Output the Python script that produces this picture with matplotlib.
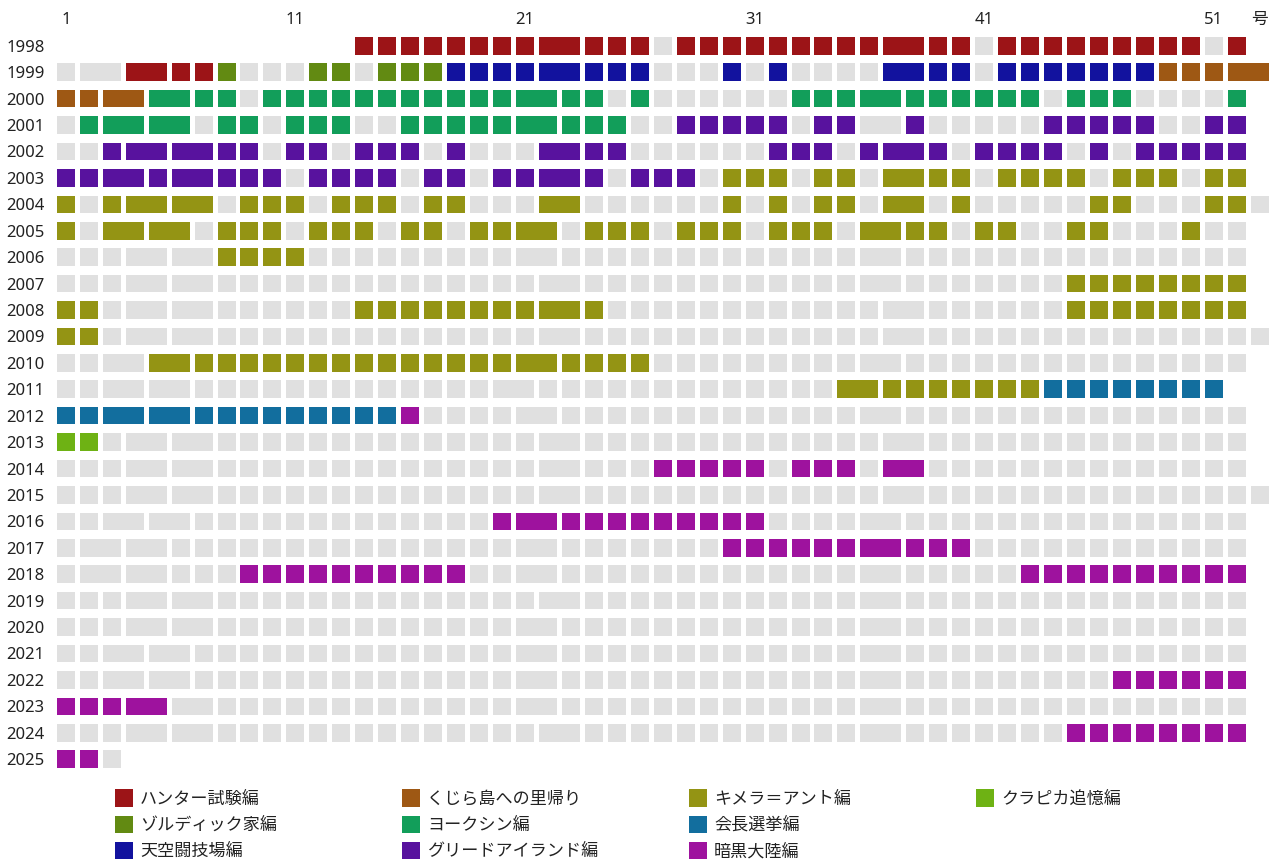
import matplotlib
matplotlib.use("Agg")
import matplotlib.pyplot as plt
from matplotlib.patches import Rectangle

FONT = ["Noto Sans", "Noto Sans CJK JP", "DejaVu Sans"]
plt.rcParams["font.family"] = FONT

years = list(range(1998, 2026))

# One character per issue column (grouped by 10 for readability).
# '-' = no issue drawn, '0' = not published, letters = story arc
issue_arcs = [
    "---------- ---HHHHHHH HHHHHH0HHH HHHHHHHHHH 0HHHHHHHHH 0H",    # 1998
    "000HHHHZ00 0ZZ0ZZZTTT TTTTTT000T 0T0000TTTT 0TTTTTTTKK KKK",   # 1999
    "KKKKYYYY0Y YYYYYYYYYY YYYY0Y0000 00YYYYYYYY YYY0YYY000 0Y",    # 2000
    "0YYYYY0YY0 YYY00YYYYY YYYYY00GGG GG0GG00G00 000GGGGG00 GG",    # 2001
    "00GGGGGGG0 GG0GGG0G00 0GGGG00000 0GGG0GGGG0 GGGG0G0GGG GG",    # 2002
    "GGGGGGGGGG 0GGGG0GG0G GGGG0GGG0C CC0CC0CCCC 0CCCC0CCC0 CC",    # 2003
    "C0CCCCC0CC C0CCC0CC00 0CC000000C 0C0CC0CC0C 00000CC000 CC0",   # 2004
    "C0CCCC0CCC 0CCC0CC0CC CC0CCC0CCC 0CCC0CCCC0 CC00CC000C 00",    # 2005
    "0000000CCC C000000000 0000000000 0000000000 0000000000 00",    # 2006
    "0000000000 0000000000 0000000000 0000000000 0000CCCCCC CC",    # 2007
    "CC00000000 000CCCCCCC CCCC000000 0000000000 0000CCCCCC CC",    # 2008
    "CC00000000 0000000000 0000000000 0000000000 0000000000 000",   # 2009
    "0000CCCCCC CCCCCCCCCC CCCCCC0000 0000000000 0000000000 00",    # 2010
    "0000000000 0000000000 0000000000 0000CCCCCC CCCEEEEEEE E",     # 2011
    "EEEEEEEEEE EEEEED0000 0000000000 0000000000 0000000000 00",    # 2012
    "PP00000000 0000000000 0000000000 0000000000 0000000000 00",    # 2013
    "0000000000 0000000000 000000DDDD D0DDD0DD00 0000000000 00",    # 2014
    "0000000000 0000000000 0000000000 0000000000 0000000000 000",   # 2015
    "0000000000 000000000D DDDDDDDDDD D000000000 0000000000 00",    # 2016
    "0000000000 0000000000 000000000D DDDDDDDDDD 0000000000 00",    # 2017
    "00000000DD DDDDDDDD00 0000000000 0000000000 00DDDDDDDD DD",    # 2018
    "0000000000 0000000000 0000000000 0000000000 0000000000 00",    # 2019
    "0000000000 0000000000 0000000000 0000000000 0000000000 00",    # 2020
    "0000000000 0000000000 0000000000 0000000000 0000000000 00",    # 2021
    "0000000000 0000000000 0000000000 0000000000 000000DDDD DD",    # 2022
    "DDDDD00000 0000000000 0000000000 0000000000 0000000000 00",    # 2023
    "0000000000 0000000000 0000000000 0000000000 0000DDDDDD DD",    # 2024
    "DD0",                                                          # 2025
]

# first issue number of each combined (double) issue, per year
merged_issues = [
    [22, 37], [2, 4, 22, 37, 52], [3, 5, 21, 36], [3, 5, 21, 36],
    [4, 6, 22, 37], [3, 6, 22, 37], [4, 6, 22, 37], [3, 5, 21, 36],
    [4, 6, 21, 36], [4, 6, 22, 36], [4, 6, 22, 37], [4, 6, 22, 37],
    [3, 5, 21, 36], [3, 5, 20, 35], [3, 5, 21, 36], [4, 6, 22, 37],
    [4, 6, 22, 37], [4, 6, 22, 37], [3, 5, 21, 36], [2, 4, 21, 36],
    [2, 4, 21, 36], [4, 6, 22, 36], [4, 6, 21, 36], [3, 5, 21, 36],
    [3, 5, 21, 36], [4, 6, 21, 36], [4, 6, 22, 36], [],
]

arc_codes = ["H", "Z", "T", "K", "Y", "G", "C", "E", "D", "P"]
arc_names = ["ハンター試験編", "ゾルディック家編", "天空闘技場編",
             "くじら島への里帰り", "ヨークシン編", "グリードアイランド編",
             "キメラ＝アント編", "会長選挙編", "暗黒大陸編", "クラピカ追憶編"]
arc_colors = ["#9c1417", "#628a12", "#12129e", "#9e5814", "#129e5a",
              "#58129e", "#949414", "#126e9e", "#9e129e", "#6eb214"]
gray = "#e0e0e0"

x_ticks = [1, 11, 21, 31, 41, 51, 53]
x_tick_labels = ["1", "11", "21", "31", "41", "51", "号"]

color_of = dict(zip(arc_codes, arc_colors))
color_of["0"] = gray

W, H = 1280, 868
fig = plt.figure(figsize=(W / 100, H / 100), dpi=100)
fig.patch.set_facecolor("white")

# axes geometry (pixels)
pitch_x = 22.96
x1_px = 65.8
pitch_y = 26.42
y0_px = 45.8
left_px = x1_px - 0.5 * pitch_x
right_px = x1_px + 52.5 * pitch_x
top_px = y0_px - 0.5 * pitch_y
bot_px = y0_px + 27.5 * pitch_y
ax = fig.add_axes([left_px / W, 1 - bot_px / H, (right_px - left_px) / W,
                   (bot_px - top_px) / H])
ax.set_xlim(0.5, 53.5)
ax.set_ylim(27.5, -0.5)

cw = 18.0 / pitch_x
ch = 17.6 / pitch_y

for yi, (row, mlist) in enumerate(zip(issue_arcs, merged_issues)):
    s = row.replace(" ", "")
    i = 1
    while i <= len(s):
        c = s[i - 1]
        span = 2 if i in mlist else 1
        if c != "-":
            col = color_of[c]
            ax.add_patch(Rectangle((i - cw / 2, yi - ch / 2), span - 1 + cw, ch,
                                   facecolor=col, edgecolor="none", lw=0))
        i += span

for sp in ax.spines.values():
    sp.set_visible(False)
ax.xaxis.tick_top()
ax.set_xticks(x_ticks)
ax.set_xticklabels(x_tick_labels, fontsize=12, color="#222222")
ax.set_yticks(range(len(years)))
ax.set_yticklabels([str(y) for y in years], fontsize=12, color="#222222")
ax.tick_params(axis="both", length=0)
ax.tick_params(axis="x", pad=3)
ax.tick_params(axis="y", pad=7)
ax.set_facecolor("none")

# legend (column-major, 3 rows)
lax = fig.add_axes([0, 0, 1, 1])
lax.set_xlim(0, W)
lax.set_ylim(H, 0)
lax.axis("off")
for k, (name, col) in enumerate(zip(arc_names, arc_colors)):
    cidx, ridx = divmod(k, 3)
    x0 = 115 + cidx * 287
    yc = 798 + ridx * 26.2
    lax.add_patch(Rectangle((x0, yc - 8.7), 17.5, 17.5, facecolor=col,
                            edgecolor="none"))
    lax.text(x0 + 25, yc + 1.5, name, fontsize=12.3, va="center", ha="left",
             color="#222222", family=FONT)

fig.savefig("out.png", dpi=100, facecolor="white")
